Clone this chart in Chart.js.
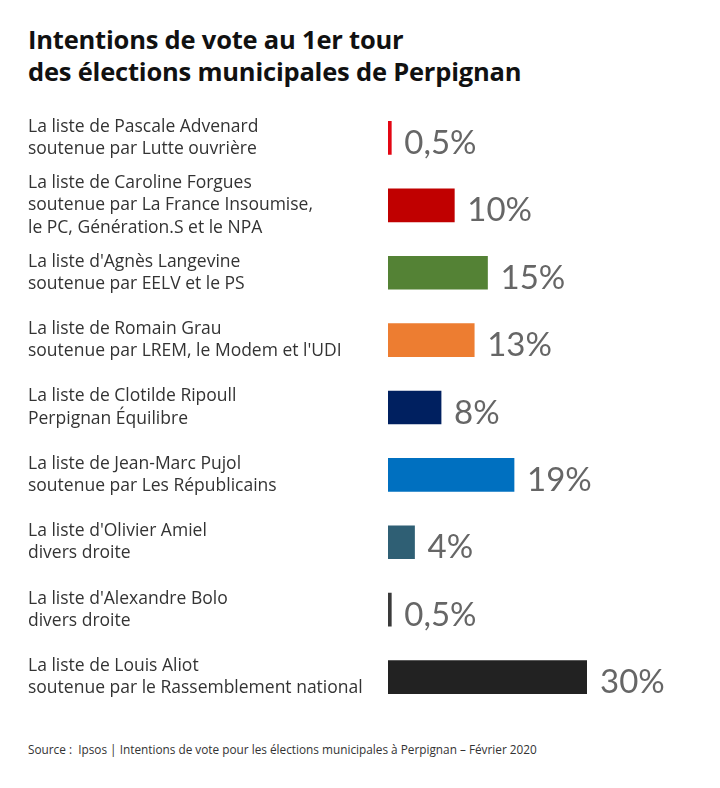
<!DOCTYPE html>
<html lang="fr">
<head>
<meta charset="utf-8">
<script src="https://cdn.jsdelivr.net/npm/chart.js@4"></script>
<style>
  body { margin: 0; background: #fff; width: 720px; height: 788px; position: relative; overflow: hidden; }
  .titre { position: absolute; left: 28px; top: 23px; margin: 0; font-family: "Open Sans", sans-serif; font-weight: 700; font-size: 25.5px; line-height: 32px; color: #111; letter-spacing: -0.2px; }
  .graphe { position: absolute; left: 0; top: 82px; width: 720px; height: 651px; }
  .source { position: absolute; left: 28px; top: 741px; margin: 0; font-family: "Open Sans", sans-serif; font-size: 11.8px; color: #333; }
</style>
</head>
<body>
<h1 class="titre">Intentions de vote au 1er tour<br>des élections municipales de Perpignan</h1>
<div class="graphe"><canvas id="chart"></canvas></div>
<p class="source">Source :&nbsp; Ipsos | Intentions de vote pour les élections municipales à Perpignan – Février 2020</p>

<script>
// --- DONNÉES ---
const listes = [
    ["La liste de Pascale Advenard", "soutenue par Lutte ouvrière"],
    ["La liste de Caroline Forgues", "soutenue par La France Insoumise,", "le PC, Génération.S et le NPA"],
    ["La liste d'Agnès Langevine", "soutenue par EELV et le PS"],
    ["La liste de Romain Grau", "soutenue par LREM, le Modem et l'UDI"],
    ["La liste de Clotilde Ripoull", "Perpignan Équilibre"],
    ["La liste de Jean-Marc Pujol", "soutenue par Les Républicains"],
    ["La liste d'Olivier Amiel", "divers droite"],
    ["La liste d'Alexandre Bolo", "divers droite"],
    ["La liste de Louis Aliot", "soutenue par le Rassemblement national"]
];
const intentions = [0.5, 10, 15, 13, 8, 19, 4, 0.5, 30];
const etiquettes = ["0,5%", "10%", "15%", "13%", "8%", "19%", "4%", "0,5%", "30%"];

const couleurs = ['#e30613', '#c00000', '#548235', '#ed7d31', '#002060', '#0070c0', '#2f5f74', '#3a3a3a', '#222222'];

// Etiquettes de valeur à droite des barres
const valeursPlugin = {
    id: 'valeurs',
    afterDatasetsDraw(chart) {
        const ctx = chart.ctx;
        const meta = chart.getDatasetMeta(0);
        ctx.save();
        ctx.font = '33px Lato, sans-serif';
        ctx.fillStyle = '#666666';
        ctx.textAlign = 'left';
        ctx.textBaseline = 'alphabetic';
        meta.data.forEach((bar, i) => {
            ctx.fillText(etiquettes[i], bar.x + 13, bar.y + 16);
        });
        ctx.restore();
    }
};

new Chart(document.getElementById('chart'), {
    type: 'bar',
    data: {
        labels: listes,
        datasets: [{
            data: intentions,
            backgroundColor: couleurs,
            barThickness: 33,
            borderWidth: 0
        }]
    },
    options: {
        indexAxis: 'y',
        responsive: true,
        maintainAspectRatio: false,
        animation: false,
        layout: { padding: { left: 28, right: 133, top: 0, bottom: 0 } },
        scales: {
            x: { display: false, min: 0, max: 30 },
            y: {
                grid: { display: false, drawTicks: false },
                border: { display: false },
                ticks: {
                    autoSkip: false,
                    crossAlign: 'far',
                    padding: 0,
                    color: '#333',
                    font: { family: 'Open Sans', size: 17.5, lineHeight: 1.27 }
                },
                afterFit: (scale) => { scale.width = 360; }
            }
        },
        plugins: {
            legend: { display: false },
            tooltip: { enabled: false }
        }
    },
    plugins: [valeursPlugin]
});
</script>
</body>
</html>
